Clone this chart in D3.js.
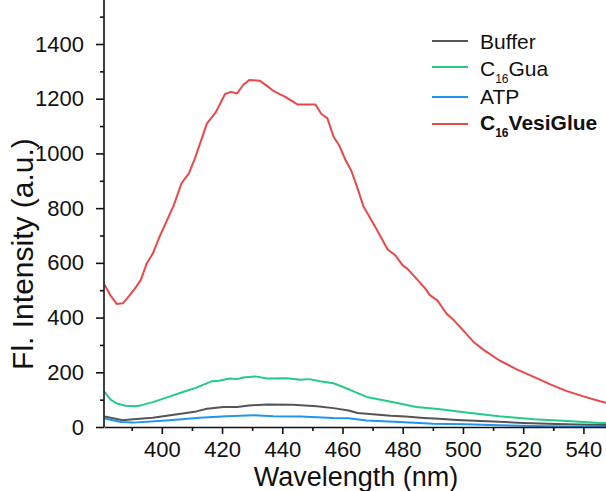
<!DOCTYPE html>
<html>
<head>
<meta charset="utf-8">
<script src="https://cdn.jsdelivr.net/npm/d3@7"></script>
<style>
  body { margin: 0; background: #fff; }
  svg text { font-family: "Liberation Sans", Arial, sans-serif; fill: #111; }
</style>
</head>
<body>
<div id="chart"></div>
<script>
const w = 606; //Width
const h = 491; //Height

// wavelength (nm) / intensity pairs
const vesiWl = [381, 383, 385, 387, 388.5, 391, 393, 395, 397, 399, 401, 404, 406.5, 409, 411, 415, 418, 421, 423, 425, 427, 429, 432.5, 435, 437, 441, 445, 451, 453, 455, 457, 459, 461, 463, 465, 467, 469, 471.5, 475, 477.5, 480, 481.5, 485, 487.5, 489, 491.5, 494.5, 497, 500, 503.5, 507, 512, 518, 523.5, 529, 534.5, 540, 545.5, 548];
const vesiVal = [520, 480, 450, 452, 470, 505, 537, 598, 634, 689, 738, 811, 890, 927, 982, 1110, 1152, 1217, 1225, 1219, 1250, 1268, 1266, 1246, 1229, 1207, 1179, 1179, 1144, 1128, 1062, 1027, 976, 935, 872, 805, 768, 719, 649, 628, 591, 579, 537, 506, 482, 463, 415, 390, 354, 311, 281, 244, 210, 183, 156, 131, 112, 94, 87];

const guaWl = [381, 383, 385, 388, 391, 393, 397, 403, 407, 411.5, 416.5, 419, 422.5, 425, 427, 431, 435, 441.5, 446, 449, 452.5, 457, 462.5, 468, 473.5, 479, 484.5, 492.5, 501, 512, 523.5, 534.5, 545.5, 548];
const guaVal = [128, 100, 86, 78, 76, 79, 91, 113, 128, 144, 167, 169, 177, 175, 181, 185, 177, 178, 173, 175, 167, 160, 136, 110, 98, 86, 73, 65, 53, 39, 28, 22, 15, 14];

const bufferWl = [381, 387, 390.5, 397, 404, 411.5, 415, 420.5, 425, 429, 435, 443.5, 451.5, 457, 462, 465, 470, 476, 481, 487, 492, 498, 504, 510, 520, 531, 542, 548];
const bufferVal = [38, 25, 28, 34, 45, 57, 67, 73, 73, 79, 82, 81, 76, 69, 60, 51, 47, 41, 38, 33, 30, 26, 23, 20, 15, 11, 8, 7];

const atpWl = [381, 386.5, 390.5, 401.5, 412.5, 421.5, 430.5, 437, 446, 457, 462, 468, 479, 487, 490, 501, 512, 523, 535, 548];
const atpVal = [31, 18, 16, 24, 34, 39, 43, 39, 38, 33, 32, 24, 18, 14, 12, 10, 6, 4, 2, 1];

const xTicks = [400, 420, 440, 460, 480, 500, 520, 540];
const yTicks = [0, 200, 400, 600, 800, 1000, 1200, 1400];

const series = [
  {name: "Buffer", wl: bufferWl, val: bufferVal, color: "#555555"},
  {name: "C16Gua", wl: guaWl, val: guaVal, color: "#22cc88"},
  {name: "ATP", wl: atpWl, val: atpVal, color: "#1e96f0"},
  {name: "C16VesiGlue", wl: vesiWl, val: vesiVal, color: "#e84848"}
];

const left = 104, bottom = 427;

const xScale = d3.scaleLinear()
                 .domain([380.8, 547.5])
                 .range([left, w]);

const yScale = d3.scaleLinear()
                 .domain([0, 1400])
                 .range([bottom, 44]);

const svg = d3.select("#chart")
              .append("svg")
              .attr("width", w)
              .attr("height", h);

//Clip to plot area
svg.append("clipPath")
  .attr("id", "plot-area")
  .append("rect")
  .attr("x", left)
  .attr("y", 0)
  .attr("width", w - left)
  .attr("height", bottom);

//Lines
const line = d3.line()
               .x(d => xScale(d[0]))
               .y(d => yScale(d[1]));

svg.append("g")
  .attr("clip-path", "url(#plot-area)")
  .selectAll("path")
  .data(series)
  .join("path")
  .attr("d", s => line(d3.zip(s.wl, s.val)))
  .attr("fill", "none")
  .attr("stroke", s => s.color)
  .attr("stroke-width", 2)
  .attr("stroke-linejoin", "round");

//Minor ticks
const minorX = d3.range(390, 550, 20);
const minorY = d3.range(100, 1600, 200);

svg.append("g")
  .attr("transform", "translate(0," + bottom + ")")
  .call(d3.axisBottom(xScale).tickValues(minorX).tickSize(4).tickFormat(""))
  .call(g => g.select(".domain").remove());

svg.append("g")
  .attr("transform", "translate(" + left + ",0)")
  .call(d3.axisLeft(yScale).tickValues(minorY).tickSize(4).tickFormat(""))
  .call(g => g.select(".domain").remove());

//X axis
svg.append("g")
  .attr("class", "x-axis")
  .attr("transform", "translate(0," + bottom + ")")
  .call(d3.axisBottom(xScale).tickValues(xTicks).tickSize(7).tickSizeOuter(0).tickPadding(7).tickFormat(d3.format("d")))
  .call(g => g.selectAll("text").attr("font-size", 22).attr("font-family", "Liberation Sans, Arial, sans-serif"));

//Y axis
svg.append("g")
  .attr("class", "y-axis")
  .attr("transform", "translate(" + left + ",0)")
  .call(d3.axisLeft(yScale).tickValues(yTicks).tickSize(8).tickSizeOuter(0).tickPadding(12).tickFormat(d3.format("d")))
  .call(g => g.select(".domain").attr("d", "M0," + bottom + "V0"))
  .call(g => g.selectAll("text").attr("font-size", 22).attr("font-family", "Liberation Sans, Arial, sans-serif"));

svg.selectAll(".domain, .tick line")
  .attr("stroke", "#111")
  .attr("stroke-width", 1.6);

//Axis titles
svg.append("text")
  .attr("x", 356)
  .attr("y", 486)
  .attr("text-anchor", "middle")
  .attr("font-size", 27)
  .text("Wavelength (nm)");

svg.append("text")
  .attr("transform", "translate(33,254) rotate(-90)")
  .attr("text-anchor", "middle")
  .attr("font-size", 30)
  .text("Fl. Intensity (a.u.)");

//Legend
const legendY = [41, 67, 97, 124];
const legendBase = [49, 76, 104, 130];
const legend = svg.append("g");

series.forEach((s, i) => {
  legend.append("line")
    .attr("x1", 432).attr("x2", 468)
    .attr("y1", legendY[i]).attr("y2", legendY[i])
    .attr("stroke", s.color)
    .attr("stroke-width", 2);

  const t = legend.append("text")
    .attr("x", 480)
    .attr("y", legendBase[i])
    .attr("font-size", 21)
    .attr("font-weight", s.name === "C16VesiGlue" ? "bold" : "normal");

  if (s.name.startsWith("C16")) {
    t.append("tspan").text("C");
    t.append("tspan").attr("font-size", 12).attr("dy", 7).text("16");
    t.append("tspan").attr("dy", -7).text(s.name.slice(3));
  } else {
    t.text(s.name);
  }
});
</script>
</body>
</html>
